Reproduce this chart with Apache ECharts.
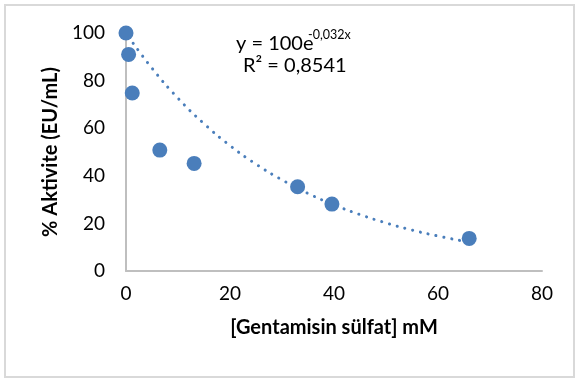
<!DOCTYPE html>
<html><head><meta charset="utf-8">
<script src="https://cdn.jsdelivr.net/npm/echarts@6/dist/echarts.min.js"></script>
<style>html,body{margin:0;padding:0;background:#fff}#c{width:577px;height:381px}</style>
</head><body><div id="c"></div>
<script>
// Measured data points
var concentration = [0, 0.5, 1.2, 6.5, 13.1, 33, 39.6, 66];
var activity = [100, 91, 74.8, 50.8, 45.2, 35.4, 28.1, 13.7];
// Exponential trendline samples (dotted curve)
var trendX = [0.5, 5, 10, 15, 20, 25, 30, 35, 40, 45, 50, 55, 60, 66];
var trendY = [98.4, 85.2, 72.6, 61.9, 52.7, 44.9, 38.3, 32.6, 27.8, 23.7, 20.2, 17.2, 14.7, 12.1];
var xTicks = [0, 20, 40, 60, 80];
var yTicks = [0, 20, 40, 60, 80, 100];
var xTitle = '[Gentamisin sülfat] mM';
var yTitle = '% Aktivite (EU/mL)';
var eqMain = 'y = 100e';
var eqSup = '-0,032x';
var eqR2 = 'R² = 0,8541';

var FONT = 'Lato';
var BLUE = '#4a7ebb';
var chart = echarts.init(document.getElementById('c'), null, {renderer: 'canvas'});
chart.setOption({
  animation: false,
  backgroundColor: '#fff',
  textStyle: {fontFamily: FONT},
  grid: {left: 126, right: 35, top: 33, bottom: 110, containLabel: false},
  xAxis: {
    type: 'value', min: xTicks[0], max: xTicks[xTicks.length - 1], interval: 20,
    name: xTitle, nameLocation: 'middle', nameGap: 47,
    nameTextStyle: {fontFamily: FONT, fontWeight: 'bold', fontSize: 20, color: '#000'},
    axisLine: {show: true, lineStyle: {color: '#bfbfbf', width: 2}},
    axisTick: {show: false}, splitLine: {show: false},
    axisLabel: {fontFamily: FONT, fontSize: 19, color: '#000', margin: 13}
  },
  yAxis: {
    type: 'value', min: yTicks[0], max: yTicks[yTicks.length - 1], interval: 20,
    name: yTitle, nameLocation: 'middle', nameGap: 58, nameRotate: 90,
    nameTextStyle: {fontFamily: FONT, fontWeight: 'bold', fontSize: 20, color: '#000'},
    axisLine: {show: true, onZero: false, lineStyle: {color: '#bfbfbf', width: 2}},
    axisTick: {show: false}, splitLine: {show: false},
    axisLabel: {fontFamily: FONT, fontSize: 19, color: '#000', margin: 21}
  },
  series: [
    {
      type: 'line', data: trendX.map(function (x, i) { return [x, trendY[i]]; }),
      smooth: true, showSymbol: false, symbol: 'none', z: 2, silent: true,
      lineStyle: {color: BLUE, width: 3, type: [0.1, 7.9], cap: 'round'}
    },
    {
      type: 'scatter', data: concentration.map(function (x, i) { return [x, activity[i]]; }),
      symbol: 'circle', symbolSize: 15, z: 3,
      itemStyle: {color: BLUE, opacity: 1}
    }
  ],
  graphic: [
    {type: 'rect', shape: {x: 5, y: 5, width: 569, height: 372}, style: {fill: 'none', stroke: '#d9d9d9', lineWidth: 2}, z: -1},
    {type: 'text', left: 236, top: 34, style: {text: eqMain, font: '20px ' + FONT, fill: '#000'}},
    {type: 'text', left: 308, top: 28, style: {text: eqSup, font: '12.5px ' + FONT, fill: '#000'}},
    {type: 'text', left: 243, top: 56, style: {text: eqR2, font: '20px ' + FONT, fill: '#000'}}
  ]
});
</script></body></html>
